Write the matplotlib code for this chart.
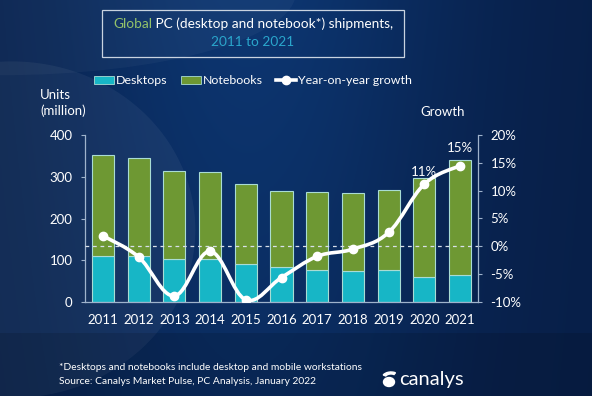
import numpy as np
import matplotlib
matplotlib.use('Agg')
import matplotlib.pyplot as plt
from matplotlib.path import Path
from matplotlib.patches import PathPatch, Rectangle, Ellipse, Patch, Wedge
from matplotlib.lines import Line2D

plt.rcParams['font.family'] = ['Lato', 'DejaVu Sans']

# data
years = ['2011', '2012', '2013', '2014', '2015', '2016', '2017', '2018', '2019', '2020', '2021']
desktops = [111, 109, 103, 103, 91, 83, 77, 75, 77, 61, 65]
totals = [352, 345, 313, 312, 282, 267, 263, 260, 268, 297, 341]
notebooks = [t - d for t, d in zip(totals, desktops)]
growth = [1.9, -1.9, -8.9, -0.9, -9.6, -5.6, -1.8, -0.5, 2.5, 11.2, 14.5]

units_ticks = [0, 100, 200, 300, 400]
growth_ticks = [-10, -5, 0, 5, 10, 15, 20]

c_desk = '#17b6c6'
c_note = '#6e9833'
c_edge = '#a9dcd4'
c_axis = '#9fb3cc'

fig = plt.figure(figsize=(5.92, 3.96), dpi=100)

# background
bg = fig.add_axes([0, 0, 1, 1])
bg.set_xlim(0, 1)
bg.set_ylim(0, 1)
bg.axis('off')
gx = np.linspace(0, 1, 300)
gy = np.linspace(0, 1, 200)
X, Y = np.meshgrid(gx, gy)
shade = np.exp(-((X - 0.42) ** 2) / 0.12) * (0.6 + 0.4 * Y)
dark = np.array([0.03, 0.12, 0.28])
light = np.array([0.05, 0.21, 0.44])
img = dark[None, None, :] + (light - dark)[None, None, :] * shade[:, :, None]
bg.imshow(img, extent=[0, 1, 0, 1], aspect='auto', origin='lower', zorder=0)
bg.add_patch(Ellipse((0.02, 0.42), 0.62, 0.85, color='white', alpha=0.05, lw=0, zorder=1))
bg.add_patch(Ellipse((0.0, 1.02), 1.0, 0.42, color='white', alpha=0.035, lw=0, zorder=1))
bg.add_patch(Rectangle((0, 0), 1, 0.16, color='black', alpha=0.12, lw=0, zorder=1))

# title box
bg.add_patch(Rectangle((102 / 592, 1 - 57 / 396), 302 / 592, 47 / 396, fill=False,
                       ec='#c9d3e0', lw=0.9, zorder=2))
tfs = 9.8
fig.canvas.draw()
r = fig.canvas.get_renderer()
probe = fig.text(0, 0, 'Global PC (desktop and notebook*) shipments,', fontsize=tfs)
wfull = probe.get_window_extent(r).width
probe.set_text('Global')
wg = probe.get_window_extent(r).width
probe.remove()
xs = 253 - wfull / 2
fig.text(xs / 592, 1 - 24 / 396, 'Global', color='#93c26a', fontsize=tfs, va='center')
fig.text((xs + wg) / 592, 1 - 24 / 396, ' PC (desktop and notebook*) shipments,', color='white',
         fontsize=tfs, va='center')
fig.text(253 / 592, 1 - 42 / 396, '2011 to 2021', color='#2aa6cc', fontsize=tfs,
         va='center', ha='center')

# main axes
ax = fig.add_axes([85 / 592, 1 - 302 / 396, 393 / 592, 167 / 396])
ax.set_facecolor('none')
x = np.arange(len(years))
ax.bar(x, desktops, width=0.62, color=c_desk, edgecolor=c_edge, lw=0.8, zorder=2)
ax.bar(x, notebooks, bottom=desktops, width=0.62, color=c_note, edgecolor=c_edge, lw=0.8, zorder=2)
ax.set_xlim(-0.5, 10.5)
ax.set_ylim(0, 400)
ax.set_yticks(units_ticks)
ax.set_xticks(x)
ax.set_xticklabels(years)
ax.tick_params(axis='x', length=0, pad=9, colors='white', labelsize=9.5)
ax.tick_params(axis='y', length=3, width=0.8, color=c_axis, colors='white', labelsize=9.5, pad=6)
for s in ['top', 'right']:
    ax.spines[s].set_visible(False)
for s in ['left', 'bottom']:
    ax.spines[s].set_color(c_axis)
    ax.spines[s].set_linewidth(0.9)

# growth axis
ax2 = ax.twinx()
ax2.set_ylim(-10, 20)
ax2.set_yticks(growth_ticks)
ax2.set_yticklabels([f'{v}%' for v in growth_ticks])
ax2.tick_params(axis='y', length=3, width=0.8, color=c_axis, colors='white', labelsize=9.5, pad=6)
for s in ['top', 'left', 'bottom']:
    ax2.spines[s].set_visible(False)
ax2.spines['right'].set_color(c_axis)
ax2.spines['right'].set_linewidth(0.9)
ax2.axhline(0, color='#d8e0ea', lw=0.9, ls=(0, (3, 3)), zorder=3)

# smooth growth curve as bezier path
pts = np.column_stack([x, growth]).astype(float)
verts = [tuple(pts[0])]
codes = [Path.MOVETO]
k = 0.18
for i in range(len(pts) - 1):
    p0 = pts[max(i - 1, 0)]
    p1 = pts[i]
    p2 = pts[i + 1]
    p3 = pts[min(i + 2, len(pts) - 1)]
    c1 = p1 + (p2 - p0) * k
    c2 = p2 - (p3 - p1) * k
    verts += [tuple(c1), tuple(c2), tuple(p2)]
    codes += [Path.CURVE4] * 3
ax2.add_patch(PathPatch(Path(verts, codes), fill=False, ec='white', lw=2.6, zorder=4))
ax2.plot(x, growth, 'o', color='white', ms=6, zorder=5)
ax2.text(x[9], growth[9] + 1.0, '11%', color='white', fontsize=9.5, ha='center', va='bottom')
ax2.text(x[10], growth[10] + 2.0, '15%', color='white', fontsize=9.5, ha='center', va='bottom')

# axis titles
fig.text(40 / 592, 1 - 103 / 396, 'Units\n(million)', color='white', fontsize=9.5,
         va='center', ha='left', linespacing=1.35)
fig.text(420 / 592, 1 - 112 / 396, 'Growth', color='white', fontsize=9.5, va='center')

# legend
handles = [Patch(fc=c_desk, ec=c_edge, lw=0.6), Patch(fc=c_note, ec=c_edge, lw=0.6),
           Line2D([], [], color='white', lw=2.6, marker='o', ms=6)]
fig.legend(handles, ['Desktops', 'Notebooks', 'Year-on-year growth'], loc='center',
           bbox_to_anchor=(253 / 592, 1 - 81 / 396), ncol=3, frameon=False,
           labelcolor='white', fontsize=8.9, handlelength=1.6, handleheight=0.55,
           handletextpad=0.15, columnspacing=1.1, borderpad=0)

# footnote and source
fig.text(59 / 592, 1 - 367 / 396, '*Desktops and notebooks include desktop and mobile workstations',
         color='white', fontsize=7.4, va='center')
fig.text(59 / 592, 1 - 382 / 396, 'Source: Canalys Market Pulse, PC Analysis, January 2022',
         color='white', fontsize=7.4, va='center')
fig.text(399 / 592, 1 - 379 / 396, 'canalys', color='white', fontsize=14.5, va='center')
bg.add_patch(Ellipse((389 / 592, 1 - 382 / 396), 11 / 592, 9 / 396, color='white', zorder=3))
bg.add_patch(Wedge((391 / 592, 1 - 378 / 396), 9 / 592, 60, 150, width=3 / 592,
                   color='white', zorder=3))

fig.savefig('out.png', dpi=100)
